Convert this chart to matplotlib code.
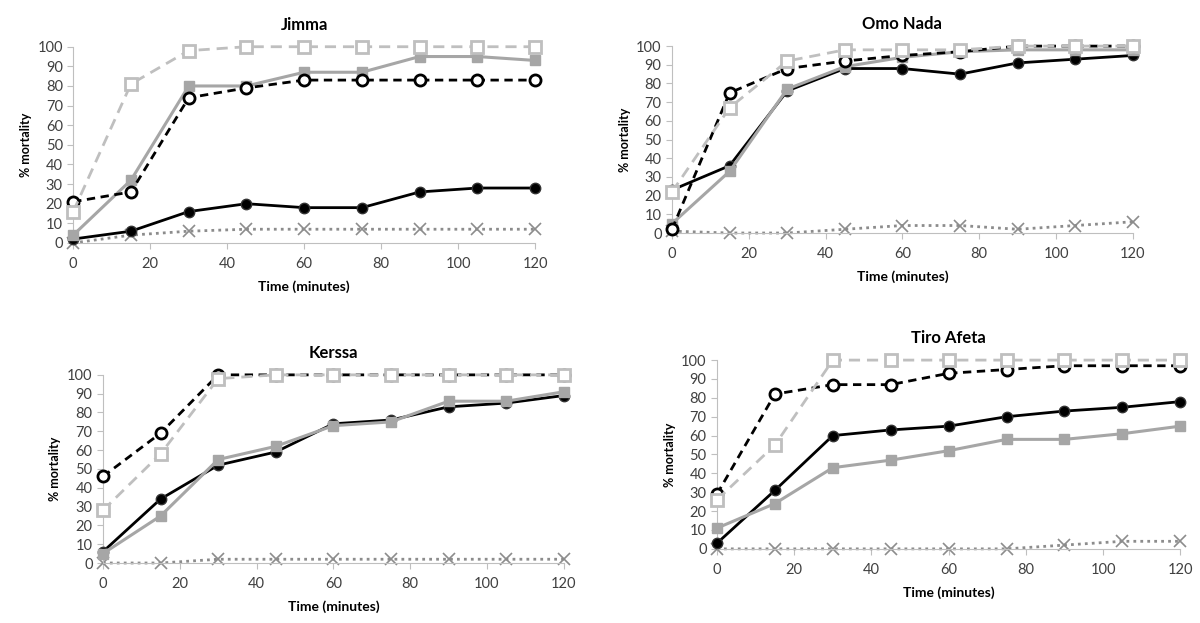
import matplotlib.pyplot as plt

plt.rcParams['font.family'] = ['Lato', 'DejaVu Sans']

time = [0, 15, 30, 45, 60, 75, 90, 105, 120]

# Jimma
jimma_open_sq = [16, 81, 98, 100, 100, 100, 100, 100, 100]
jimma_fill_sq = [4, 32, 80, 80, 87, 87, 95, 95, 93]
jimma_open_ci = [21, 26, 74, 79, 83, 83, 83, 83, 83]
jimma_fill_ci = [2, 6, 16, 20, 18, 18, 26, 28, 28]
jimma_cross = [0, 4, 6, 7, 7, 7, 7, 7, 7]

# Omo Nada
omo_open_sq = [22, 67, 92, 98, 98, 98, 100, 100, 100]
omo_fill_sq = [5, 33, 77, 89, 94, 97, 98, 98, 98]
omo_open_ci = [2, 75, 88, 92, 95, 97, 100, 100, 100]
omo_fill_ci = [23, 36, 76, 88, 88, 85, 91, 93, 95]
omo_cross = [1, 0, 0, 2, 4, 4, 2, 4, 6]

# Kerssa
kerssa_open_sq = [28, 58, 98, 100, 100, 100, 100, 100, 100]
kerssa_fill_sq = [5, 25, 55, 62, 73, 75, 86, 86, 91]
kerssa_open_ci = [46, 69, 100, 100, 100, 100, 100, 100, 100]
kerssa_fill_ci = [6, 34, 52, 59, 74, 76, 83, 85, 89]
kerssa_cross = [0, 0, 2, 2, 2, 2, 2, 2, 2]

# Tiro Afeta
tiro_open_sq = [26, 55, 100, 100, 100, 100, 100, 100, 100]
tiro_fill_sq = [11, 24, 43, 47, 52, 58, 58, 61, 65]
tiro_open_ci = [29, 82, 87, 87, 93, 95, 97, 97, 97]
tiro_fill_ci = [3, 31, 60, 63, 65, 70, 73, 75, 78]
tiro_cross = [0, 0, 0, 0, 0, 0, 2, 4, 4]

panels = [
    ("Jimma", [0.061, 0.610, 0.385, 0.315],
     jimma_open_sq, jimma_fill_sq, jimma_open_ci, jimma_fill_ci, jimma_cross),
    ("Omo Nada", [0.560, 0.626, 0.384, 0.300],
     omo_open_sq, omo_fill_sq, omo_open_ci, omo_fill_ci, omo_cross),
    ("Kerssa", [0.0858, 0.0963, 0.384, 0.302],
     kerssa_open_sq, kerssa_fill_sq, kerssa_open_ci, kerssa_fill_ci, kerssa_cross),
    ("Tiro Afeta", [0.5975, 0.119, 0.386, 0.303],
     tiro_open_sq, tiro_fill_sq, tiro_open_ci, tiro_fill_ci, tiro_cross),
]

light = '#bfbfbf'
mid = '#a6a6a6'
xgray = '#8c8c8c'

fig = plt.figure(figsize=(12, 6.23), dpi=100)

for title, pos, osq, fsq, oci, fci, crs in panels:
    ax = fig.add_axes(pos)
    ax.plot(time, crs, color=xgray, lw=2, ls=(0, (1, 1.5)), marker='x',
            ms=8, mew=1.2, clip_on=False, zorder=2)
    ax.plot(time, fci, color='black', lw=2, marker='o', ms=7.5,
            mfc='black', mec='#333333', clip_on=False, zorder=3)
    ax.plot(time, fsq, color=mid, lw=2.2, marker='s', ms=7.5,
            mfc=mid, mec=mid, clip_on=False, zorder=4)
    ax.plot(time, oci, color='black', lw=2, ls=(0, (3, 2)), marker='o', ms=8,
            mfc='white', mec='black', mew=2, clip_on=False, zorder=5)
    ax.plot(time, osq, color=light, lw=2, ls=(0, (4, 2.5)), marker='s', ms=8,
            mfc='white', mec=light, mew=2, clip_on=False, zorder=6)

    ax.set_xlim(0, 120)
    ax.set_ylim(0, 100)
    ax.set_xticks(range(0, 121, 20))
    ax.set_yticks(range(0, 101, 10))
    ax.spines['top'].set_visible(False)
    ax.spines['right'].set_visible(False)
    ax.spines['left'].set_color('#bfbfbf')
    ax.spines['bottom'].set_color('#bfbfbf')
    ax.tick_params(colors='#bfbfbf', labelcolor='#404040', labelsize=10.5,
                   length=4, direction='out')
    ax.tick_params(axis='x', pad=6)
    ax.set_title(title, fontsize=12, fontweight='bold', pad=12)
    ax.set_xlabel("Time (minutes)", fontsize=10, fontweight='bold', labelpad=7)
    ax.set_ylabel("% mortality", fontsize=9, fontweight='bold')

fig.savefig('out.png', dpi=100)
